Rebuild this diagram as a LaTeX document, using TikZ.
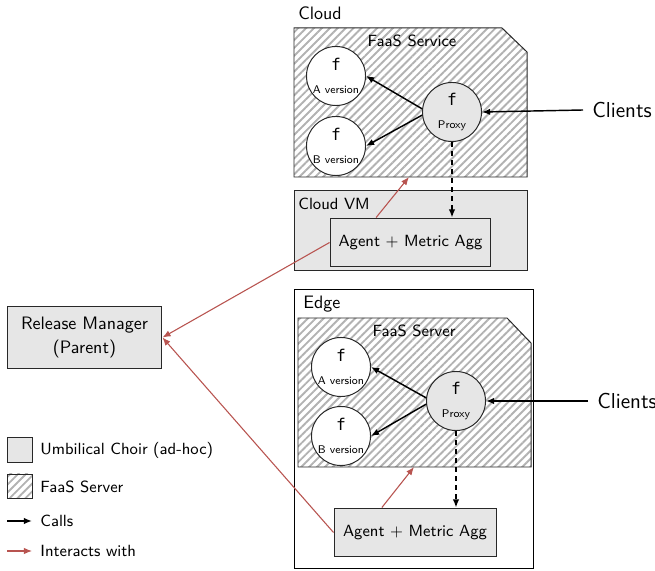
\documentclass[tikz,border=0pt]{standalone}
\usepackage{fontspec}
\newfontfamily\fmono{DejaVu Sans Mono}
\usetikzlibrary{arrows.meta,patterns.meta,fit}
\definecolor{boxgray}{RGB}{230,230,230}
\definecolor{relred}{RGB}{184,84,80}
\definecolor{hatchgray}{RGB}{178,178,178}
\definecolor{edgeline}{RGB}{40,40,40}
\begin{document}
\begin{tikzpicture}[x=0.5556pt,y=-0.5556pt,font=\sffamily\small,
  hatch/.style={draw=edgeline,line width=0.55pt,pattern={Lines[angle=45,distance=3.1pt,line width=1.05pt]},pattern color=hatchgray},
  graybox/.style={draw=edgeline,line width=0.55pt,fill=boxgray,inner sep=0pt},
  textbox/.style={graybox,rectangle,align=center},
  fnode/.style={circle,draw=edgeline,line width=0.55pt,fill=white,minimum size=32.8pt,inner sep=0pt,align=center},
  proxynode/.style={fnode,fill=boxgray},
  lbl/.style={inner sep=0pt,anchor=base west},
  calls/.style={-{Latex[length=4.5pt,width=3.6pt]},line width=0.8pt,black},
  interacts/.style={-{Latex[length=4.5pt,width=3.6pt]},line width=0.6pt,relred},
  dashcall/.style={calls,dash pattern=on 3pt off 2pt},
  clientsnode/.style={font=\sffamily\large,inner xsep=5pt,inner ysep=0pt,anchor=west}
]
\useasboundingbox (0,0) rectangle (655,571);

% ---------- Cloud ----------
\node[lbl,font=\sffamily\normalsize] (cloudlbl) at (298,19.5) {Cloud};
\path[hatch] (294,28) -- (502,28) -- (527,52) -- (527,177) -- (294,177) -- cycle;
\coordinate (cfaasb) at (409,177);
\node[anchor=base,inner sep=0pt] (cfaaslbl) at (412,46.5) {FaaS Service};

\node[fnode] (ca) at (336,76) {{\fmono\small f}\\[2pt]{\fontsize{6.2}{7}\selectfont A version}};
\node[fnode] (cb) at (336,146) {{\fmono\small f}\\[2pt]{\fontsize{6.2}{7}\selectfont B version}};
\node[proxynode] (cproxy) at (452,112) {{\fmono\small f}\\[2pt]{\fontsize{6.2}{7}\selectfont Proxy}};
\node[clientsnode] (cclients) at (583,110) {Clients};

\node[graybox,fit={(294,190) (527,270)}] (cloudvm) {};
\node[lbl] (cloudvmlbl) at (298,210) {Cloud VM};
\node[textbox,minimum width=89.4pt,minimum height=27.2pt] (cagent) at (410.5,242.5) {Agent + Metric Agg};

\draw[calls] (cproxy.174) -- (ca.east);
\draw[calls] (cproxy.186) -- (cb.east);
\draw[calls] (cclients.west) -- (cproxy.east);
\draw[dashcall] (cproxy.south) -- (cagent.north -| cproxy.south);
\draw[interacts] (cagent.144) -- (cfaasb);

% ---------- Edge ----------
\node[draw=black,line width=0.5pt,fill=white,inner sep=0pt,fit={(294,289) (533,568)}] (edgebox) {};
\node[lbl,font=\sffamily\normalsize] (edgelbl) at (303,309) {Edge};
\path[hatch] (298,318) -- (507,318) -- (531,343) -- (531,467) -- (298,467) -- cycle;
\coordinate (efaasb) at (414,467);
\node[anchor=base,inner sep=0pt] (efaaslbl) at (414,337) {FaaS Server};

\node[fnode] (ea) at (341,367) {{\fmono\small f}\\[2pt]{\fontsize{6.2}{7}\selectfont A version}};
\node[fnode] (eb) at (341,436) {{\fmono\small f}\\[2pt]{\fontsize{6.2}{7}\selectfont B version}};
\node[proxynode] (eproxy) at (456,401) {{\fmono\small f}\\[2pt]{\fontsize{6.2}{7}\selectfont Proxy}};
\node[clientsnode] (eclients) at (588,401) {Clients};

\node[textbox,minimum width=90pt,minimum height=27.2pt] (eagent) at (415,532.5) {Agent + Metric Agg};

\draw[calls] (eproxy.174) -- (ea.east);
\draw[calls] (eproxy.186) -- (eb.east);
\draw[calls] (eclients.west) -- (eproxy.east);
\draw[dashcall] (eproxy.south) -- (eagent.north -| eproxy.south);
\draw[interacts] (eagent.143) -- (efaasb);

% ---------- Release Manager ----------
\node[textbox,minimum width=86.1pt,minimum height=33.9pt,font=\sffamily\normalsize] (rm) at (84.5,337.5) {Release Manager\\[1.5pt](Parent)};
\draw[interacts] (cagent.west) -- (rm.east);
\draw[interacts] (eagent.west) -- (rm.east);

% ---------- Legend ----------
\node[graybox,fit={(7,437) (32,462)}] (leg1) {};
\node[hatch,inner sep=0pt,fit={(7,474) (32,498)}] (leg2) {};
\node[inner sep=0pt,anchor=west] (leg1t) at (40,450) {Umbilical Choir (ad-hoc)};
\node[inner sep=0pt,anchor=west] (leg2t) at (40,487) {FaaS Server};
\coordinate (l3a) at (7,521);
\coordinate (l3b) at (32,521);
\coordinate (l4a) at (7,551);
\coordinate (l4b) at (32,551);
\draw[calls] (l3a) -- (l3b);
\draw[interacts] (l4a) -- (l4b);
\node[inner sep=0pt,anchor=west] (leg3t) at (40,521) {Calls};
\node[inner sep=0pt,anchor=west] (leg4t) at (40,551) {Interacts with};
\end{tikzpicture}
\end{document}
